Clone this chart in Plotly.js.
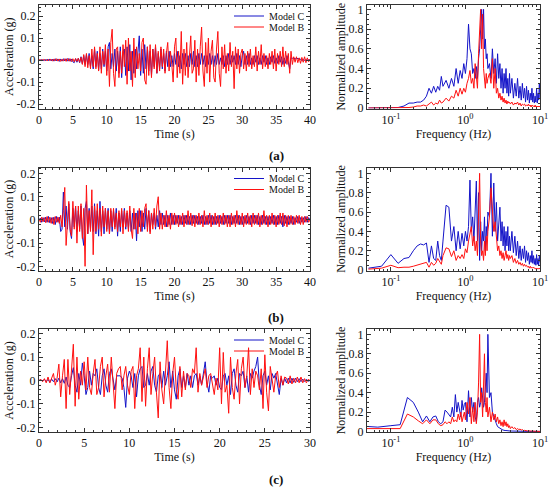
<!DOCTYPE html>
<html>
<head>
<meta charset="utf-8">
<script src="https://cdn.plot.ly/plotly-3.0.1.min.js"></script>
<style>html,body{margin:0;padding:0;background:#fff;}#chart{width:550px;height:490px;}</style>
</head>
<body>
<div id="chart"></div>
<script>
// ---------------- DATA ----------------
const dtA = 0.2, dtB = 0.2, dtC = 0.2;

const accA_C = [0,-0.002,0.002,-0.003,0.002, -0.003,0.004,-0.003,0.005,-0.004, 0.004,-0.005,0.006,-0.004,0.005,
-0.006,0.005,-0.005,0.006,-0.004, 0.006,-0.005,0.007,-0.006,0.005, -0.008,-0.012,0.006,-0.01,0.008,
-0.012,0.015,-0.018,0.02,-0.02, 0.025,-0.02,0.03,-0.03,0.02, -0.04,0.05,-0.03,0.04,-0.045,
0.03,-0.04,0.05,-0.03,0.04, -0.05,0.06,0.08,-0.04,0.03, -0.03,0.05,-0.05,0.04,-0.06,
0.06,-0.08,0.04,0.05,-0.07, 0.06,-0.05,0.07,-0.09,0.04, -0.06,0.05,-0.04,0.06,0.11,
-0.07,0.05,-0.06,0.07,-0.04, 0.06,-0.05,0.04,-0.07,0.05, -0.03,0.06,-0.06,0.03,-0.04,
0.05,-0.04,0.03,-0.05,0.04, -0.03,0.04,-0.03,0.02,-0.03, 0.03,-0.02,0.04,-0.03,0.02,
-0.04,0.03,-0.02,0.03,-0.03, 0.02,-0.03,0.03,-0.02,0.04, -0.03,0.02,-0.03,0.03,-0.02,
0.03,-0.02,0.02,-0.03,0.02, -0.02,0.03,-0.02,0.02,-0.03, 0.02,-0.02,0.03,-0.02,0.01,
-0.02,0.02,-0.03,0.02,-0.02, 0.03,-0.02,0.02,-0.01,0.02, -0.02,0.03,-0.02,0.02,-0.03,
0.02,0.04,-0.02,0.02,-0.02, 0.03,-0.02,0.01,-0.02,0.02, -0.01,0.02,-0.02,0.01,-0.02,
0.02,-0.01,0.02,-0.02,0.01, -0.02,0.015,-0.01,0.02,-0.015, 0.01,-0.015,0.02,-0.01,0.015,
-0.02,0.01,-0.015,0.02,-0.01, -0.04,0.01,0.008,0.01,0.005, 0.008,0.006,0.005,0.004,-0.003,
0.003,-0.002,0.002,-0.002,0.002, 0];

const accA_B = [0,0.002,-0.002,0.003,-0.002, 0.003,-0.004,0.004,-0.003,0.004, -0.005,0.005,-0.004,0.006,-0.005,
0.005,-0.006,0.004,-0.005,0.006, -0.006,0.007,-0.005,0.006,-0.007, 0.006,-0.008,0.007,-0.006,0.008,
-0.01,0.012,-0.02,0.025,-0.03, 0.03,-0.035,0.02,-0.04,0.05, -0.03,0.06,-0.04,0.03,-0.05,
0.06,-0.06,0.04,-0.02,0.07, -0.07,0.05,-0.12,0.08,0.14, -0.06,-0.12,0.05,0.06,-0.08,
0.04,-0.06,0.07,-0.03,0.09, -0.11,0.1,-0.05,0.04,-0.12, 0.1,-0.08,0.06,-0.04,0.03,
-0.05,0.08,0.1,-0.09,-0.11, 0.06,-0.07,0.07,-0.08,0.05, -0.04,0.07,-0.06,0.04,-0.05,
0.06,-0.03,0.05,-0.06,0.03, 0.08,-0.05,0.04,-0.02,-0.1, 0.06,0.1,-0.08,0.04,-0.06,
0.13,-0.11,0.05,-0.07,0.08, -0.08,0.04,0.11,-0.06,-0.04, 0.09,-0.1,0.05,-0.07,0.06,
0.15,-0.05,-0.12,0.08,-0.06, 0.1,-0.1,0.04,0.09,-0.08, -0.1,0.05,0.13,-0.06,-0.12,
0.06,-0.04,0.07,-0.06,0.03, -0.05,0.08,-0.03,0.04,-0.13, 0.06,-0.04,0.05,-0.06,0.03,
0.05,-0.04,0.03,-0.05,0.04, -0.03,0.05,-0.04,0.02,-0.03, 0.06,-0.05,0.04,-0.02,0.07,
-0.04,0.03,-0.03,0.02,-0.04, 0.03,-0.02,0.04,-0.04,0.05, -0.05,0.03,-0.02,0.04,-0.03,
0.06,-0.03,0.04,-0.02,0.03, -0.06,0.04,-0.02,0.015,-0.01, 0.015,-0.012,0.01,-0.015,0.012,
-0.01,0.015,-0.012,0.01,-0.008, 0.005];

const accB_C = [0,0.008,-0.01,0.01,-0.008, 0.012,-0.01,0.015,-0.012,0.01, -0.015,0.012,-0.02,0.015,-0.01,
0.012,-0.05,-0.04,0.12,-0.03, 0.06,-0.04,0.07,-0.05,-0.08, 0.05,-0.03,0.06,-0.05,0.04,
-0.04,0.06,-0.07,-0.11,0.05, 0.08,-0.06,0.05,-0.04,0.06, -0.05,0.07,-0.06,0.04,-0.07,
0.08,-0.05,0.04,-0.06,0.05, -0.04,0.05,-0.06,0.04,-0.05, 0.04,-0.03,0.05,-0.07,0.03,
-0.05,0.04,-0.03,0.05,-0.04, 0.03,-0.04,0.04,-0.05,0.03, -0.04,0.03,-0.09,0.04,-0.03,
0.04,-0.05,0.03,-0.04,0.05, -0.03,0.04,-0.05,0.03,-0.02, 0.03,-0.04,0.02,-0.03,0.04,
-0.02,0.03,-0.02,0.02,-0.03, 0.02,-0.02,0.03,-0.02,0.02, -0.02,0.02,-0.015,0.02,-0.02,
0.015,-0.02,0.02,-0.015,0.02, -0.02,0.015,-0.02,0.02,-0.015, 0.02,-0.015,0.015,-0.02,0.015,
-0.015,0.02,-0.02,0.015,-0.02, 0.02,-0.015,0.02,-0.02,0.015, -0.02,0.015,-0.015,0.02,-0.015,
0.015,-0.02,0.02,-0.015,0.02, -0.015,0.02,-0.02,0.015,-0.015, 0.02,-0.015,0.02,-0.02,0.015,
-0.02,0.015,-0.015,0.02,-0.015, 0.015,-0.02,0.02,-0.015,0.02, -0.015,0.02,-0.02,0.015,-0.02,
0.02,-0.015,0.015,-0.02,0.015, -0.02,0.015,-0.015,0.02,-0.02, 0.015,-0.02,0.02,-0.015,0.015,
-0.03,0.02,-0.015,0.015,-0.02, 0.015,-0.015,0.015,-0.02,0.01, -0.01,0.015,-0.015,0.01,-0.01,
0.01,-0.01,0.015,-0.01,0.01, 0];

const accB_B = [0.005,-0.01,0.012,-0.008,0.01, -0.012,0.015,-0.01,0.012,-0.015, 0.01,-0.02,0.015,-0.01,0.012,
-0.015,0.02,-0.03,0.04,0.14, -0.11,0.02,0.08,-0.04,-0.07, 0.08,-0.04,0.06,-0.1,0.06,
-0.05,0.07,-0.08,0.05,-0.2, 0.15,-0.06,0.04,-0.05,0.13, -0.15,0.06,-0.05,0.07,-0.04,
0.05,-0.07,0.06,-0.03,0.05, -0.05,0.04,-0.06,0.05,-0.03, 0.05,-0.04,0.03,-0.05,0.04,
-0.03,0.05,-0.06,0.04,-0.03, 0.04,-0.05,0.06,-0.04,-0.08, 0.05,-0.04,0.03,-0.06,0.05,
-0.05,0.04,-0.03,0.05,0.07, -0.05,0.04,-0.06,0.03,-0.04, 0.05,-0.03,0.06,0.1,-0.04,
0.03,-0.04,0.02,-0.03,0.04, -0.03,0.02,-0.04,0.03,-0.02, 0.03,-0.02,0.02,-0.03,0.02,
-0.02,0.03,-0.03,0.02,-0.02, 0.04,-0.02,0.03,-0.025,0.02, -0.03,0.02,-0.02,0.03,-0.02,
0.02,-0.03,0.04,-0.02,0.02, -0.02,0.03,-0.03,0.02,-0.02, 0.03,-0.02,0.02,-0.03,0.02,
-0.02,0.03,-0.02,0.02,-0.03, 0.02,-0.03,0.03,-0.02,0.02, -0.03,0.04,-0.02,0.02,-0.02,
0.03,-0.03,0.02,-0.02,0.03, -0.02,0.02,-0.03,0.03,-0.02, 0.02,-0.02,0.03,-0.03,0.02,
-0.02,0.04,-0.02,0.02,-0.03, 0.02,-0.02,0.03,-0.02,0.02, -0.03,0.02,-0.02,0.03,-0.02,
0.03,-0.025,0.02,-0.03,0.02, -0.02,0.02,-0.02,0.015,-0.02, 0.02,-0.015,0.02,-0.02,0.015,
-0.02,0.015,-0.01,0.015,-0.01, 0];

const accC_C = [0,0.003,-0.003,0.005,-0.005, 0.005,-0.008,0.006,-0.005,0.008, -0.006,0.01,-0.01,0.008,-0.012,
0.015,-0.02,-0.03,0.02,0.055, -0.02,-0.05,0.03,-0.02,0.075, 0.02,-0.06,-0.03,0.04,-0.02,
0.03,0.02,0.05,-0.03,-0.06, 0.02,0.05,-0.02,-0.05,0.03, 0.05,0.01,-0.04,0.02,0.02,
0.02,0.01,-0.03,-0.115,0.01, 0.04,0.02,-0.03,0.03,-0.07, 0.02,0.05,0.06,-0.03,-0.02,
0.03,-0.02,0.04,0.06,-0.02, -0.05,0.02,0.03,-0.03,0.04, -0.02,0.02,0.08,-0.03,0.04,
-0.04,-0.08,0.02,0.05,-0.03, 0.02,-0.03,0.03,-0.02,0.02, -0.03,0.02,0.03,-0.02,0.02,
-0.02,0.03,0.08,-0.01,-0.05, 0.02,0.01,0.02,-0.02,0.01, -0.03,-0.04,0.02,0.03,-0.02,
0.02,-0.06,0.03,0.05,-0.02, -0.05,0.03,0.02,0.04,-0.03, 0.02,-0.05,0.03,0.01,0.04,
0.06,0.1,-0.02,-0.06,0.02, 0.04,-0.02,0.02,-0.04,0.03, 0.01,0.03,-0.02,-0.06,0.01,
-0.02,0.01,-0.01,0.01,-0.01, 0.01,-0.008,0.01,-0.005,0.008, -0.005,0.006,-0.004,0.005,-0.003,
0];

const accC_B = [0,0.005,-0.005,0.008,-0.01, 0.015,-0.01,0.01,0.03,-0.02, 0.01,0.07,-0.07,0.02,0.09,
-0.12,0.09,-0.06,0.03,0.155, -0.11,0.1,-0.08,0.04,-0.02, 0.08,-0.04,0.1,-0.03,-0.06,
0.03,0.09,-0.06,-0.03,0.06, 0.1,-0.07,0.02,0.07,-0.05, 0.1,-0.03,-0.12,0.03,0.05,
0.06,-0.04,0.02,0.06,-0.02, -0.06,0.04,0.06,-0.12,0.02, 0.05,0.14,-0.09,0.1,-0.11,
0.05,0.14,-0.06,0.03,0.1, -0.05,-0.16,0.08,-0.04,-0.1, 0.04,0.17,-0.03,-0.12,0.03,
0.1,-0.04,-0.08,0.06,-0.07, 0.04,-0.04,0.03,0.02,-0.03, 0.05,0.03,0.14,-0.05,0.03,
-0.02,0.02,0.05,-0.03,0.02, 0.03,-0.02,-0.06,0.01,-0.04, 0.14,-0.1,0.12,-0.05,-0.02,
-0.14,0.1,-0.03,-0.08,0.03, 0.09,-0.1,0.05,0.1,-0.03, 0.02,0.14,-0.06,0.05,-0.03,
0.04,0.02,-0.04,0.05,-0.12, 0.11,-0.05,-0.13,0.06,0.01, -0.05,0.02,0.04,-0.03,0.02,
-0.02,0.015,0.01,-0.015,0.02, -0.015,0.01,-0.01,0.015,-0.01, 0.015,-0.01,0.008,-0.01,0.005,
0];

const freq40 = [0.05,0.075,0.1,0.125,0.15,0.175,0.2,0.225,0.25,0.275,0.3,0.325,0.35,0.375,0.4,0.425,0.45,0.475,0.5,
0.55,0.6,0.65,0.7,0.75,0.8,0.85,0.9,0.95,1.0,
1.05,1.1,1.15,1.2,1.25,1.3,1.35,1.4,1.45,1.5,1.55,1.6,1.65,1.7,1.75,1.8,1.85,1.9,1.95,2.0,
2.1,2.2,2.3,2.4,2.5,2.6,2.7,2.8,2.9,3.0,3.1,3.2,3.3,3.4,3.5,3.6,3.7,3.8,3.9,4.0,
4.2,4.4,4.6,4.8,5.0,5.2,5.4,5.6,5.8,6.0,6.2,6.4,6.6,6.8,7.0,7.2,7.4,7.6,7.8,8.0,8.2,8.4,8.6,8.8,9.0,9.2,9.4,9.6,9.8,10.0];

const freq30 = [0.0333,0.0667,0.1,0.1333,0.1667,0.2,0.2333,0.2667,0.3,0.3333,0.3667,0.4,0.4333,0.4667,0.5,
0.5333,0.5667,0.6,0.6333,0.6667,0.7,0.7333,0.7667,0.8,0.8333,0.8667,0.9,0.9333,0.9667,1.0,
1.05,1.1,1.15,1.2,1.25,1.3,1.35,1.4,1.45,1.5,1.55,1.6,1.65,1.7,1.75,1.8,1.85,1.9,1.95,2.0,
2.1,2.2,2.3,2.4,2.5,2.6,2.7,2.8,2.9,3.0,3.1,3.2,3.3,3.4,3.5,3.6,3.7,3.8,3.9,4.0,
4.2,4.4,4.6,4.8,5.0,5.2,5.4,5.6,5.8,6.0,6.2,6.4,6.6,6.8,7.0,7.2,7.4,7.6,7.8,8.0,8.2,8.4,8.6,8.8,9.0,9.2,9.4,9.6,9.8,10.0];

const specA_C = [0,0,0,0.005,0.02,0.05,0.05,0.06,0.06,0.08,0.12,0.2,0.15,0.22,0.16,0.22,0.18,0.32,0.22,
0.28,0.2,0.3,0.22,0.4,0.25,0.38,0.3,0.45,0.35,
0.5,0.85,0.6,0.55,0.35,0.4,0.3,0.42,0.3,0.5,0.6,0.8,1.0,0.7,1.0,0.6,0.7,0.5,0.55,0.4,
0.45,0.3,0.6,0.35,0.5,0.25,0.55,0.3,0.45,0.2,0.4,0.15,0.35,0.2,0.4,0.15,0.3,0.12,0.35,0.15,
0.3,0.1,0.25,0.12,0.3,0.1,0.22,0.08,0.25,0.1,0.2,0.06,0.22,0.08,0.18,0.05,0.15,0.08,0.2,0.06,0.15,0.05,0.12,0.06,0.2,0.05,0.15,0.08,0.25,0.1];

const specA_B = [0,0,0,0,0,0.005,0.01,0.02,0.02,0.03,0.02,0.04,0.06,0.03,0.05,0.04,0.08,0.05,0.06,
0.1,0.07,0.12,0.1,0.18,0.12,0.2,0.14,0.2,0.16,
0.25,0.3,0.38,0.25,0.3,0.2,0.45,0.3,0.2,0.55,0.85,1.0,0.6,0.95,0.4,0.3,0.2,0.35,0.25,0.3,
0.35,0.25,0.5,0.2,0.4,0.15,0.2,0.1,0.15,0.08,0.12,0.06,0.1,0.05,0.08,0.04,0.07,0.05,0.06,0.04,
0.06,0.03,0.05,0.04,0.06,0.03,0.05,0.02,0.04,0.03,0.04,0.02,0.03,0.02,0.04,0.02,0.03,0.01,0.03,0.02,0.02,0.01,0.03,0.01,0.02,0.01,0.02,0.01,0.02,0.01];

const specB_C = [0.02,0.04,0.16,0.07,0.12,0.13,0.2,0.25,0.27,0.26,0.28,0.08,0.25,0.12,0.1,0.3,0.15,0.1,0.3,
0.67,0.65,0.3,0.45,0.2,0.4,0.22,0.38,0.25,0.4,
0.3,0.45,0.93,0.4,0.55,0.3,0.6,0.92,0.3,0.8,0.1,0.5,0.2,0.4,0.3,0.55,0.2,0.45,0.35,0.6,
0.55,1.0,0.35,0.9,0.4,0.7,0.3,0.55,0.65,0.3,0.5,0.25,0.45,0.2,0.4,0.25,0.45,0.2,0.35,0.2,
0.4,0.18,0.35,0.15,0.3,0.12,0.25,0.1,0.22,0.12,0.25,0.08,0.2,0.1,0.18,0.06,0.15,0.08,0.2,0.07,0.15,0.06,0.12,0.05,0.16,0.06,0.12,0.05,0.15,0.08];

const specB_B = [0.01,0.02,0.05,0.025,0.03,0.03,0.04,0.05,0.06,0.07,0.08,0.03,0.08,0.05,0.07,0.12,0.08,0.06,0.15,
0.23,0.22,0.14,0.2,0.1,0.15,0.12,0.16,0.12,0.22,
0.18,0.3,0.4,0.45,0.25,0.35,0.2,0.3,0.15,0.5,1.0,0.3,0.15,0.2,0.1,0.3,0.15,0.35,0.2,0.4,
0.55,0.85,0.6,0.4,0.5,0.3,0.2,0.25,0.15,0.2,0.12,0.18,0.1,0.15,0.2,0.12,0.16,0.1,0.15,0.12,
0.15,0.08,0.12,0.07,0.1,0.06,0.08,0.05,0.07,0.04,0.06,0.04,0.05,0.03,0.04,0.02,0.04,0.02,0.03,0.02,0.03,0.02,0.02,0.01,0.02,0.01,0.02,0.01,0.02,0.01];

const specC_C = [0.06,0.045,0.06,0.07,0.35,0.3,0.2,0.1,0.16,0.1,0.15,0.16,0.1,0.08,0.1,
0.22,0.2,0.18,0.15,0.25,0.15,0.38,0.2,0.3,0.2,0.15,0.32,0.22,0.28,0.3,
0.1,0.42,0.15,0.35,0.2,0.3,0.15,0.1,0.3,0.35,0.25,0.3,0.45,0.35,0.25,0.3,0.45,0.6,0.4,1.0,
0.35,0.4,0.2,0.15,0.12,0.08,0.05,0.04,0.03,0.02,0.02,0.015,0.01,0.01,0.01,0.008,0.008,0.006,0.006,0.005,
0.005,0.004,0.004,0.004,0.003,0.003,0.003,0.003,0.002,0.002,0.002,0.002,0.002,0.002,0.001,0.001,0.001,0.001,0.001,0.001,0.001,0.001,0.001,0.001,0.001,0.001,0.001,0.001,0.001,0.001];

const specC_B = [0.03,0.03,0.03,0.03,0.18,0.15,0.11,0.08,0.12,0.08,0.12,0.12,0.08,0.06,0.07,
0.1,0.08,0.1,0.08,0.15,0.1,0.12,0.1,0.18,0.12,0.2,0.1,0.15,0.2,0.12,
0.3,0.18,0.35,0.08,0.25,0.1,0.3,0.08,0.2,0.5,1.0,0.3,0.4,0.15,0.5,0.8,0.3,0.2,0.35,0.15,
0.25,0.1,0.2,0.12,0.18,0.1,0.15,0.08,0.12,0.06,0.1,0.05,0.12,0.06,0.1,0.05,0.08,0.04,0.06,0.03,
0.05,0.03,0.04,0.02,0.03,0.02,0.025,0.015,0.02,0.01,0.012,0.008,0.01,0.006,0.008,0.005,0.006,0.004,0.005,0.003,0.004,0.003,0.003,0.002,0.002,0.002,0.001,0.001,0.001,0.001];

const accTicks = [-0.2,-0.1,0,0.1,0.2];
const accTickText = ['-0.2','-0.1','0','0.1','0.2'];
const ampTicks = [0,0.2,0.4,0.6,0.8,1];
const ampTickText = ['0','0.2','0.4','0.6','0.8','1'];
const freqTicks = [0.1,1,10];
const freqTickText = ['10<sup>-1</sup>','10<sup>0</sup>','10<sup>1</sup>'];
const freqMinor = [0.06,0.07,0.08,0.09,0.2,0.3,0.4,0.5,0.6,0.7,0.8,0.9,2,3,4,5,6,7,8,9];
const seriesNames = ['Model C','Model B'];
const panelLabels = ['(a)','(b)','(c)'];

// ---------------- STYLE ----------------
const FONT = 'Liberation Serif';
const BLUE = '#1414c8';
const RED = '#ff1010';
const W = 550, H = 490;

function times(n, dt){ const t=[]; for(let i=0;i<n;i++) t.push(+(i*dt).toFixed(4)); return t; }

function baseAxis(){
  return {showline:true, linecolor:'#333', linewidth:1, mirror:'allticks', ticks:'inside', ticklen:4,
    tickcolor:'#333', tickwidth:1, tickfont:{family:FONT,size:12,color:'#111'}, showgrid:false, zeroline:false,
    fixedrange:true};
}

const rows = [
  {acc:[accA_C,accA_B], dt:dtA, tmax:40, yr:[-0.22,0.25], spec:[specA_C,specA_B], f:freq40, ar:[-0.005,1.044], top:5, bot:108.5},
  {acc:[accB_C,accB_B], dt:dtB, tmax:40, yr:[-0.218,0.226], spec:[specB_C,specB_B], f:freq40, ar:[-0.004,1.06], top:167.5, bot:270.5},
  {acc:[accC_C,accC_B], dt:dtC, tmax:30, yr:[-0.22,0.22], spec:[specC_C,specC_B], f:freq30, ar:[-0.005,1.055], top:329, bot:432},
];

const data = [];
const layout = {width:W, height:H, margin:{l:0,r:0,t:0,b:0}, paper_bgcolor:'#fff', plot_bgcolor:'#fff',
  showlegend:true, font:{family:FONT, color:'#111', size:12}, annotations:[]};

rows.forEach((r, k) => {
  const xi = 2*k+1, xj = 2*k+2;
  const sfx = i => (i===1 ? '' : String(i));
  const yDom = [1 - r.bot/H, 1 - r.top/H];
  const t = times(r.acc[0].length, r.dt);
  [BLUE, RED].forEach((c, s) => {
    const li = 2*k + s + 1;
    const legName = li===1 ? 'legend' : 'legend'+li;
    data.push({type:'scatter', mode:'lines', x:t, y:r.acc[s], name:seriesNames[s], line:{color:c, width:1},
      xaxis:'x'+sfx(xi), yaxis:'y'+sfx(xi), legend:legName, hoverinfo:'skip'});
    layout[legName] = {x:229/W, xanchor:'left', y:1-(r.top+11+11*s)/H, yanchor:'middle', bgcolor:'rgba(0,0,0,0)',
      borderwidth:0, font:{family:FONT, size:10, color:'#111'}, tracegroupgap:0};
  });
  [BLUE, RED].forEach((c, s) => {
    data.push({type:'scatter', mode:'lines', x:r.f, y:r.spec[s], name:seriesNames[s], line:{color:c, width:1},
      xaxis:'x'+sfx(xj), yaxis:'y'+sfx(xj), showlegend:false, hoverinfo:'skip'});
  });
  const tf = {family:FONT, size:12, color:'#111'};
  layout['xaxis'+sfx(xi)] = Object.assign(baseAxis(), {domain:[39/W, 310/W], range:[0, r.tmax], anchor:'y'+sfx(xi),
    tickmode:'linear', tick0:0, dtick:5, minor:{ticks:'inside', ticklen:2, tickcolor:'#333', dtick:1, tick0:0},
    title:{text:'Time (s)', font:tf, standoff:0}});
  layout['yaxis'+sfx(xi)] = Object.assign(baseAxis(), {domain:yDom, range:r.yr, anchor:'x'+sfx(xi),
    tickmode:'array', tickvals:accTicks, ticktext:accTickText,
    minor:{ticks:'inside', ticklen:2, tickcolor:'#333', tickmode:'linear', tick0:0, dtick:0.02},
    title:{text:'Acceleration (g)', font:tf, standoff:0}});
  layout['xaxis'+sfx(xj)] = Object.assign(baseAxis(), {domain:[367/W, 540/W], type:'log', range:[-1.32, 1.0], anchor:'y'+sfx(xj),
    tickmode:'array', tickvals:freqTicks, ticktext:freqTickText,
    minor:{ticks:'inside', ticklen:2, tickcolor:'#333', tickmode:'array', tickvals:freqMinor},
    title:{text:'Frequency (Hz)', font:tf, standoff:0}});
  layout['yaxis'+sfx(xj)] = Object.assign(baseAxis(), {domain:yDom, range:r.ar, anchor:'x'+sfx(xj),
    tickmode:'array', tickvals:ampTicks, ticktext:ampTickText,
    minor:{ticks:'inside', ticklen:2, tickcolor:'#333', tickmode:'linear', tick0:0, dtick:0.05},
    title:{text:'Normalized amplitude', font:tf, standoff:0}});
  layout.annotations.push({text:'<b>'+panelLabels[k]+'</b>', xref:'paper', yref:'paper', x:276/W, y:1-(r.top+150)/H,
    xanchor:'center', yanchor:'middle', showarrow:false, font:{family:FONT, size:13, color:'#111'}});
});

Plotly.newPlot('chart', data, layout, {displayModeBar:false, staticPlot:true});
</script>
</body>
</html>
